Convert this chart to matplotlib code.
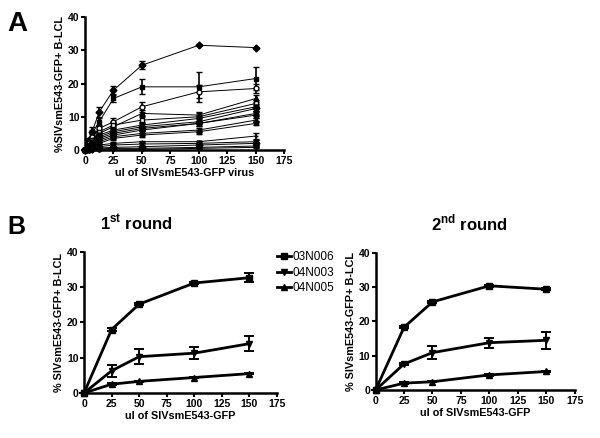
import numpy as np
import matplotlib
matplotlib.use("Agg")
import matplotlib.pyplot as plt
from matplotlib.lines import Line2D

plt.rcParams['font.family'] = ['Liberation Sans', 'DejaVu Sans']
plt.rcParams['mathtext.fontset'] = 'custom'
plt.rcParams['mathtext.rm'] = 'Liberation Sans'
plt.rcParams['mathtext.bf'] = 'Liberation Sans:bold'

# Panel A: titration of many B-LCL lines
dose_a = [0, 3.125, 6.25, 12.5, 25, 50, 100, 150]
series_a = [
    [0, 3.0, 5.5, 11.5, 18.0, 25.5, 31.5, 30.8],
    [0, 2.5, 5.0, 8.5, 15.5, 19.0, 19.0, 21.5],
    [0, 2.0, 4.0, 6.5, 8.5, 13.0, 17.5, 18.5],
    [0, 1.5, 3.0, 5.0, 7.0, 11.0, 10.5, 15.5],
    [0, 1.5, 3.0, 5.5, 7.5, 9.0, 10.0, 14.0],
    [0, 1.2, 2.5, 4.5, 6.0, 7.5, 9.5, 13.0],
    [0, 1.0, 2.0, 4.0, 5.5, 7.0, 8.5, 12.5],
    [0, 1.0, 2.0, 3.5, 5.0, 6.5, 8.0, 11.0],
    [0, 0.9, 1.8, 3.0, 4.5, 6.0, 8.0, 10.5],
    [0, 0.8, 1.5, 2.5, 4.0, 5.0, 6.0, 9.0],
    [0, 0.7, 1.2, 2.0, 3.5, 4.5, 5.5, 8.0],
    [0, 0.5, 1.0, 1.5, 2.0, 2.5, 2.5, 4.2],
    [0, 0.3, 0.5, 1.0, 1.5, 1.8, 2.0, 2.5],
    [0, 0.2, 0.4, 0.6, 0.8, 1.0, 1.5, 2.0],
    [0, 0.1, 0.2, 0.3, 0.5, 0.5, 0.8, 1.2],
    [0, 0.0, 0.1, 0.2, 0.3, 0.2, 0.5, 0.8],
]
errors_a = [
    [0, 0.5, 1.5, 1.5, 1.2, 1.2, 0.0, 0.0],
    [0, 0.5, 1.0, 1.2, 1.0, 2.3, 4.5, 3.5],
    [0, 0.5, 0.8, 1.0, 1.2, 1.5, 2.0, 1.5],
    [0, 0.3, 0.6, 0.8, 1.0, 1.0, 1.0, 1.0],
    [0, 0.3, 0.6, 0.8, 1.0, 1.2, 1.2, 1.0],
    [0, 0.3, 0.5, 0.6, 0.8, 1.0, 1.0, 0.8],
    [0, 0.3, 0.5, 0.6, 0.8, 1.0, 0.8, 0.8],
    [0, 0.2, 0.4, 0.5, 0.6, 0.8, 0.8, 0.8],
    [0, 0.2, 0.4, 0.5, 0.6, 0.8, 0.8, 0.8],
    [0, 0.2, 0.3, 0.4, 0.5, 0.6, 0.6, 0.6],
    [0, 0.2, 0.3, 0.4, 0.5, 0.6, 0.6, 0.6],
    [0, 0.1, 0.2, 0.3, 0.3, 0.3, 0.3, 0.8],
    [0, 0.1, 0.1, 0.2, 0.2, 0.3, 0.3, 0.5],
    [0, 0.1, 0.1, 0.1, 0.2, 0.2, 0.3, 0.3],
    [0, 0.1, 0.1, 0.1, 0.1, 0.2, 0.2, 0.2],
    [0, 0.0, 0.1, 0.1, 0.1, 0.2, 0.3, 0.2],
]
markers_a = ['D', 's', 'o', '^', 's', 'v', 'D', 's', 'o', '^', 's', '+', 'v', 'D', 'o', 'v']
filled_a = [True, True, False, True, False, True, True, True, True, True, True, True, True, True, False, True]

# Panel B: three lines, two rounds
dose_b = [0, 25, 50, 100, 150]
labels_b = ['03N006', '04N003', '04N005']
markers_b = ['s', 'v', '^']
round1 = [
    [0, 18.0, 25.2, 31.2, 32.7],
    [0, 6.3, 10.3, 11.3, 14.0],
    [0, 2.5, 3.3, 4.4, 5.5],
]
round1_err = [
    [0, 0.3, 0.3, 0.3, 1.3],
    [0, 1.7, 2.2, 1.7, 2.2],
    [0, 0.2, 0.2, 0.2, 0.2],
]
round2 = [
    [0, 18.3, 25.7, 30.4, 29.4],
    [0, 7.6, 10.9, 13.8, 14.5],
    [0, 2.0, 2.4, 4.4, 5.4],
]
round2_err = [
    [0, 0.3, 0.3, 0.3, 0.3],
    [0, 0.2, 2.0, 1.5, 2.5],
    [0, 0.2, 0.2, 0.2, 0.2],
]

fig = plt.figure(figsize=(6, 4.38), dpi=100)


def style_axis(ax):
    for side in ['top', 'right']:
        ax.spines[side].set_visible(False)
    for side in ['left', 'bottom']:
        ax.spines[side].set_linewidth(1.8)
    ax.set_xlim(0, 175)
    ax.set_ylim(0, 40)
    ax.set_xticks(np.arange(0, 176, 25))
    ax.set_yticks([0, 10, 20, 30, 40])
    ax.tick_params(width=1.5, length=3, labelsize=7.5, pad=1)
    for lab in ax.get_xticklabels() + ax.get_yticklabels():
        lab.set_fontweight('bold')


# Panel A
axA = fig.add_axes([0.1417, 0.6575, 0.332, 0.3037])
for y, e, m, f in zip(series_a, errors_a, markers_a, filled_a):
    axA.errorbar(dose_a, y, yerr=e, color='black', lw=0.7, marker=m, ms=3.5,
                 mfc='black' if f else 'white', mec='black', mew=1.0,
                 elinewidth=1.2, capsize=2.5, capthick=1.2, clip_on=False)
style_axis(axA)
axA.set_xlabel('ul of SIVsmE543-GFP virus', fontsize=7.8, fontweight='bold', labelpad=2)
axA.set_ylabel('%SIVsmE543-GFP+ B-LCL', fontsize=7.8, fontweight='bold', labelpad=2)
fig.text(0.013, 0.93, 'A', fontsize=20, fontweight='bold')

# Panel B
axB1 = fig.add_axes([0.14, 0.1027, 0.3217, 0.322])
axB2 = fig.add_axes([0.626, 0.1096, 0.3317, 0.313])
for ax, data, err in [(axB1, round1, round1_err), (axB2, round2, round2_err)]:
    for y, e, m, lab in zip(data, err, markers_b, labels_b):
        ax.errorbar(dose_b, y, yerr=e, color='black', lw=2.0, marker=m, ms=4.5,
                    elinewidth=1.4, capsize=3.5, capthick=1.4, label=lab, clip_on=False)
    style_axis(ax)
    ax.set_xlabel('ul of SIVsmE543-GFP', fontsize=7.8, fontweight='bold', labelpad=2)
    ax.set_ylabel('% SIVsmE543-GFP+ B-LCL', fontsize=7.8, fontweight='bold', labelpad=2)

fig.text(0.013, 0.465, 'B', fontsize=18, fontweight='bold')
fig.text(0.228, 0.475, r'1$^{\mathbf{st}}$ round', fontsize=12, fontweight='bold', ha='center')
fig.text(0.783, 0.475, r'2$^{\mathbf{nd}}$ round', fontsize=12, fontweight='bold', ha='center')

handles = [Line2D([], [], color='black', lw=2.0, marker=m, ms=4) for m in markers_b]
fig.legend(handles, labels_b, loc='upper left', bbox_to_anchor=(0.452, 0.44),
           frameon=False, fontsize=8.5, handlelength=1.2, handletextpad=0.1,
           labelspacing=0.3, borderpad=0)

fig.savefig('out.png', dpi=100)
